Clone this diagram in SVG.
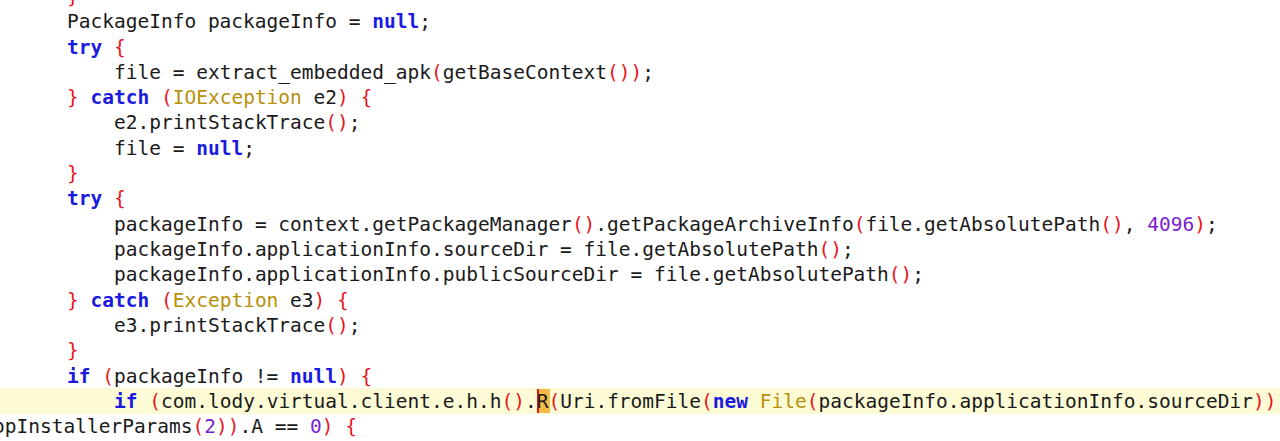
<svg xmlns="http://www.w3.org/2000/svg" width="1280" height="441" viewBox="0 0 1280 441">
<style>
text{font-family:"DejaVu Sans Mono","Liberation Mono",monospace;font-size:19.5px;fill:#1a1a1a;white-space:pre}
.k{fill:#1a1ae0;font-weight:bold}
.p{fill:#e8141c}
.t{fill:#b8900a}
.n{fill:#7a22d0}
</style>
<rect width="1280" height="441" fill="#ffffff"/>
<rect x="0" y="388" width="1280" height="26" fill="#fdfbd6"/>
<rect x="537" y="389" width="13" height="24" fill="#f6bb46"/>
<rect x="537" y="389" width="2" height="24" fill="#e8141c"/>
<g id="code">
<text x="67" y="3"><tspan class="p">}</tspan></text>
<text x="67" y="28">PackageInfo packageInfo = <tspan class="k">null</tspan>;</text>
<text x="67" y="54"><tspan class="k">try</tspan> <tspan class="p">{</tspan></text>
<text x="114" y="79">file = extract_embedded_apk<tspan class="p">(</tspan>getBaseContext<tspan class="p">())</tspan>;</text>
<text x="67" y="104"><tspan class="p">}</tspan> <tspan class="k">catch</tspan> <tspan class="p">(</tspan><tspan class="t">IOException</tspan> e2<tspan class="p">)</tspan> <tspan class="p">{</tspan></text>
<text x="114" y="129">e2.printStackTrace<tspan class="p">()</tspan>;</text>
<text x="114" y="155">file = <tspan class="k">null</tspan>;</text>
<text x="67" y="180"><tspan class="p">}</tspan></text>
<text x="67" y="205"><tspan class="k">try</tspan> <tspan class="p">{</tspan></text>
<text x="114" y="231">packageInfo = context.getPackageManager<tspan class="p">()</tspan>.getPackageArchiveInfo<tspan class="p">(</tspan>file.getAbsolutePath<tspan class="p">()</tspan>, <tspan class="n">4096</tspan><tspan class="p">)</tspan>;</text>
<text x="114" y="256">packageInfo.applicationInfo.sourceDir = file.getAbsolutePath<tspan class="p">()</tspan>;</text>
<text x="114" y="281">packageInfo.applicationInfo.publicSourceDir = file.getAbsolutePath<tspan class="p">()</tspan>;</text>
<text x="67" y="307"><tspan class="p">}</tspan> <tspan class="k">catch</tspan> <tspan class="p">(</tspan><tspan class="t">Exception</tspan> e3<tspan class="p">)</tspan> <tspan class="p">{</tspan></text>
<text x="114" y="332">e3.printStackTrace<tspan class="p">()</tspan>;</text>
<text x="67" y="357"><tspan class="p">}</tspan></text>
<text x="67" y="383"><tspan class="k">if</tspan> <tspan class="p">(</tspan>packageInfo != <tspan class="k">null</tspan><tspan class="p">)</tspan> <tspan class="p">{</tspan></text>
<text x="114" y="408"><tspan class="k">if</tspan> <tspan class="p">(</tspan>com.lody.virtual.client.e.h.h<tspan class="p">()</tspan>.R<tspan class="p">(</tspan>Uri.fromFile<tspan class="p">(</tspan><tspan class="k">new</tspan> <tspan class="t">File</tspan><tspan class="p">(</tspan>packageInfo.applicationInfo.sourceDir<tspan class="p">))</tspan></text>
<text x="-7" y="433">opInstallerParams<tspan class="p">(</tspan><tspan class="n">2</tspan><tspan class="p">))</tspan>.A == <tspan class="n">0</tspan><tspan class="p">)</tspan> <tspan class="p">{</tspan></text>
</g>
</svg>
